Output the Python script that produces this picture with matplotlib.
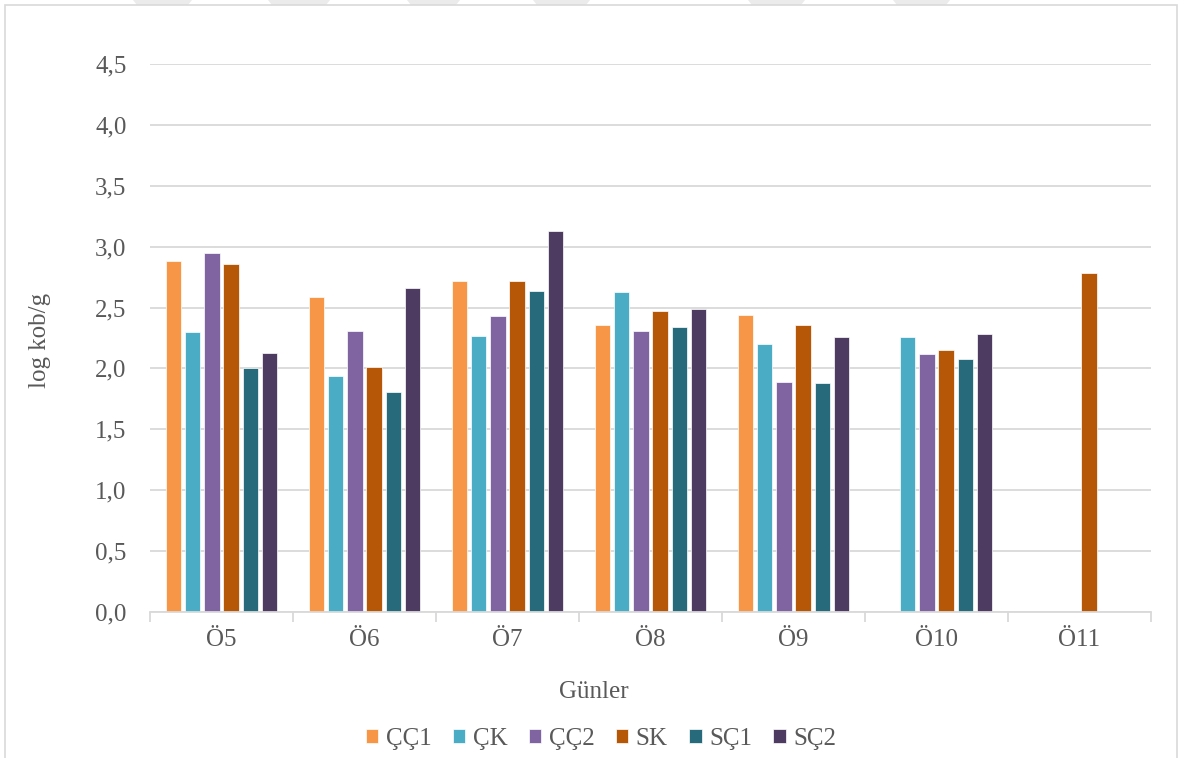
import numpy as np
import matplotlib
matplotlib.use("Agg")
import matplotlib.pyplot as plt
from matplotlib.patches import Polygon, Rectangle
from matplotlib.ticker import MultipleLocator, FixedLocator

nan = np.nan

# Sampling days and series
days = ["Ö5", "Ö6", "Ö7", "Ö8", "Ö9", "Ö10", "Ö11"]
series_names = ["ÇÇ1", "ÇK", "ÇÇ2", "SK", "SÇ1", "SÇ2"]

cc1 = [2.88, 2.59, 2.72, 2.36, 2.44, nan, nan]
ck = [2.30, 1.94, 2.27, 2.63, 2.20, 2.26, nan]
cc2 = [2.95, 2.31, 2.43, 2.31, 1.89, 2.12, nan]
sk = [2.86, 2.01, 2.72, 2.47, 2.36, 2.15, 2.78]
sc1 = [2.00, 1.81, 2.64, 2.34, 1.88, 2.08, nan]
sc2 = [2.13, 2.66, 3.13, 2.49, 2.26, 2.28, nan]

series_values = [cc1, ck, cc2, sk, sc1, sc2]
colors = ["#F79646", "#4BACC6", "#8064A2", "#B65708", "#276A7C", "#4E3B62"]

text_color = "#595959"
grid_color = "#D9D9D9"
font = "Liberation Serif"
fs = 18

W, H = 1186, 758
fig = plt.figure(figsize=(W / 100, H / 100), dpi=100)

# faint watermark stripes along the top edge
for x0, x1 in [(133, 192), (268, 330), (407, 460), (533, 590), (748, 805), (893, 950)]:
    pts = [(x0, H), (x1, H), (x1 - 4, H - 5), (x0 + 4, H - 5)]
    fig.patches.append(Polygon([(px / W, py / H) for px, py in pts],
                               closed=True, transform=fig.transFigure,
                               facecolor="#EBEBEB", edgecolor="none", zorder=0))

# chart frame
fig.patches.append(Rectangle((5 / W, -0.02), (1177 - 5) / W, 1.02 - 5 / H,
                             transform=fig.transFigure, fill=False,
                             edgecolor=grid_color, linewidth=1.2, zorder=0))

ax = fig.add_axes([150 / W, 1 - 612 / H, (1151 - 150) / W, (612 - 64) / H])
ax.set_facecolor("none")

x = np.arange(len(days))
pitch = 0.134
bar_w = 0.108
for i, (name, vals, c) in enumerate(zip(series_names, series_values, colors)):
    offs = (i - (len(series_names) - 1) / 2) * pitch
    v = np.array(vals, dtype=float)
    mask = ~np.isnan(v)
    ax.bar(x[mask] + offs, v[mask], width=bar_w, color=c, label=name,
           edgecolor="white", linewidth=0.5, zorder=3)

ax.set_xlim(-0.5, len(days) - 0.5)
ax.set_ylim(0, 4.5)
ax.yaxis.set_major_locator(MultipleLocator(0.5))
ax.yaxis.grid(True, color=grid_color, linewidth=1.3, zorder=0)
ax.yaxis.set_major_formatter(plt.FuncFormatter(lambda v, p: f"{v:.1f}".replace(".", ",")))

ax.set_xticks(x)
ax.set_xticklabels(days)
ax.xaxis.set_minor_locator(FixedLocator(np.arange(-0.5, len(days), 1.0)))
ax.tick_params(axis="x", which="major", length=0, pad=12)
ax.tick_params(axis="x", which="minor", length=7, width=1.3, color=grid_color, direction="out")
ax.tick_params(axis="y", length=0, pad=17)
for lbl in ax.get_xticklabels() + ax.get_yticklabels():
    lbl.set_fontfamily(font)
    lbl.set_fontsize(fs)
    lbl.set_color(text_color)

for s in ["top", "right", "left"]:
    ax.spines[s].set_visible(False)
ax.spines["bottom"].set_color(grid_color)
ax.spines["bottom"].set_linewidth(1.3)
ax.spines["bottom"].set_zorder(4)

fig.text(40 / W, 1 - 340 / H, "log kob/g", rotation=90, ha="center", va="center",
         fontfamily=font, fontsize=fs, color=text_color)
fig.text(594 / W, 1 - 692 / H, "Günler", ha="center", va="center",
         fontfamily=font, fontsize=fs, color=text_color)

leg = fig.legend(loc="center", bbox_to_anchor=(601 / W, 1 - 739 / H), ncol=6,
                 frameon=False, handlelength=0.5, handleheight=0.5,
                 handletextpad=0.3, columnspacing=0.85,
                 prop={"family": font, "size": fs})
for t in leg.get_texts():
    t.set_color(text_color)

fig.savefig("out.png", dpi=100)
